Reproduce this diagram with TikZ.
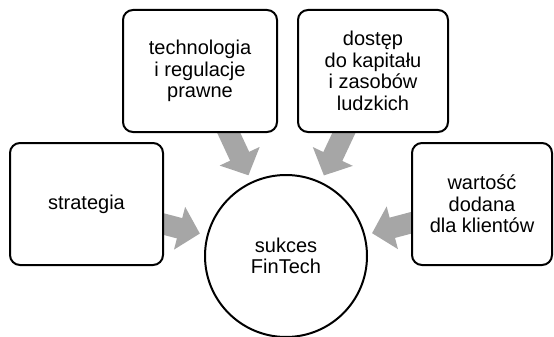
\documentclass[tikz,border=0pt]{standalone}
\usepackage{fontspec}
\setmainfont{Liberation Sans}
\usetikzlibrary{arrows.meta,backgrounds}

\definecolor{feedgray}{HTML}{A6A6A6}

\tikzset{
  factor/.style={draw, line width=2pt, rounded corners=10pt, fill=white,
    align=center, inner sep=0pt, font=\fontsize{20}{21.5}\selectfont},
  hub/.style={draw, circle, line width=2pt, fill=white, minimum size=162pt,
    align=center, inner sep=0pt, font=\fontsize{20}{21.5}\selectfont},
  feed/.style={draw=feedgray, line width=21pt,
    -{Triangle[width=43pt, length=21pt, color=feedgray]},
    shorten <=-14pt, shorten >=7pt}
}

\begin{document}
\begin{tikzpicture}[x=1pt, y=-1pt]

  \useasboundingbox (0, 0) rectangle (554, 337);

  \node[hub] (sukces) at (286, 256) {sukces\\FinTech};

  \node[factor, minimum width=153pt, minimum height=122pt] (strategia) at (86.5, 204) {strategia};
  \node[factor, minimum width=154pt, minimum height=122pt] (technologia) at (200, 71)
    {technologia\\i regulacje\\prawne};
  \node[factor, minimum width=150pt, minimum height=122pt] (dostep) at (373, 71)
    {dostęp\\do kapitału\\i zasobów\\ludzkich};
  \node[factor, minimum width=140pt, minimum height=122pt] (wartosc) at (482, 204)
    {wartość\\dodana\\dla klientów};

  \begin{scope}[on background layer]
    \foreach \src in {strategia, technologia, dostep, wartosc}
      \draw[feed] (\src) -- (sukces);
  \end{scope}

\end{tikzpicture}
\end{document}
